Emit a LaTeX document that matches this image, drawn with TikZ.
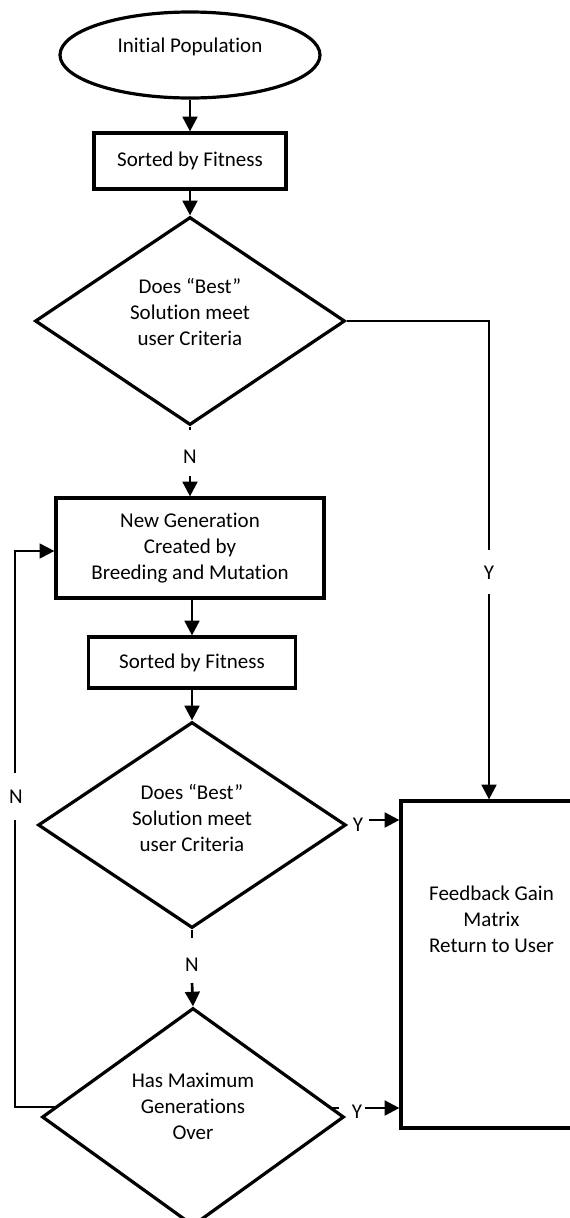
\documentclass[tikz,border=0pt]{standalone}
\usepackage{fontspec}
\setmainfont{Carlito}[Ligatures=NoCommon]
\usetikzlibrary{shapes.geometric,arrows.meta}
\newcommand\upby[2]{\raisebox{#1}[\dimexpr\height+#1\relax][\dimexpr\depth+#1\relax]{\begin{tabular}{@{}c@{}}#2\end{tabular}}}
\begin{document}
\begin{tikzpicture}[x=0.75pt,y=-0.75pt,
  every node/.style={font=\fontsize{15.75pt}{19.5pt}\selectfont, text=black},
  shapebox/.style={draw, line width=2.4pt, inner sep=0pt, align=center},
  proc/.style={shapebox, rectangle},
  decide/.style={shapebox, diamond, aspect=1.5},
  term/.style={shapebox, ellipse},
  conn/.style={line width=2pt},
  arr/.style={conn, -{Triangle[length=11pt,width=11pt]}},
  thinconn/.style={line width=1.5pt},
  lbl/.style={inner sep=0pt}]
\useasboundingbox (0,0) rectangle (570,1218);
\clip (0,0) rectangle (570,1218);

% main column
\node[term, minimum width=195pt, minimum height=64.5pt] (start) at (190,55) {\upby{6pt}{Initial Population}};
\node[proc, minimum width=144pt, minimum height=42pt] (sort1) at (190,161) {Sorted by Fitness};
\node[decide, minimum width=232.5pt, minimum height=156pt] (dec1) at (190,321) {\upby{5.25pt}{Does “Best”\\Solution meet\\user Criteria}};
\node[lbl] (n1) at (190,457) {N};
\coordinate (n1a) at (190,430);
\coordinate (n1b) at (190,476);
\node[proc, minimum width=201pt, minimum height=75pt] (newgen) at (190,548) {New Generation\\Created by\\Breeding and Mutation};
\node[proc, minimum width=155.25pt, minimum height=38.25pt] (sort2) at (192,662.5) {Sorted by Fitness};
\node[decide, minimum width=231pt, minimum height=154.5pt] (dec2) at (192,825) {\upby{3.75pt}{Does “Best”\\Solution meet\\user Criteria}};
\node[lbl] (n2) at (192,965) {N};
\coordinate (n2a) at (192,938);
\coordinate (n2b) at (192,983);
\node[decide, minimum width=226.5pt, minimum height=163.5pt] (dec3) at (193,1117) {\upby{6.75pt}{Has Maximum\\Generations\\Over}};

% result box
\node[proc, minimum width=135.75pt, minimum height=245.25pt] (fb) at (491.5,964.5) {\upby{32.6pt}{Feedback Gain\\Matrix\\Return to User}};

% main flow
\draw[arr] (start) -- (sort1);
\draw[arr] (sort1) -- (dec1);
\draw[conn] (dec1.south) -- (n1a);
\draw[arr] (n1b) -- (newgen.north);
\draw[arr] (sort2.north |- newgen.south) -- (sort2.north);
\draw[arr] (sort2) -- (dec2);
\draw[conn] (dec2.south) -- (n2a);
\draw[arr] (n2b) -- (dec3.north);

% Y from first decision
\node[lbl] (y1) at (489,573) {Y};
\coordinate (y1c) at (489,321);
\coordinate (y1a) at (489,550);
\coordinate (y1b) at (489,594);
\draw[conn] (dec1.east) -- (y1c) -- (y1a);
\draw[arr] (y1b) -- (y1b |- fb.north);

% Y from second decision
\node[lbl] (y2) at (358,825) {Y};
\coordinate (y2a) at (369,820);
\draw[arr] (y2a) -- (y2a -| fb.west);

% Y from third decision
\node[lbl] (y3) at (357,1112) {Y};
\coordinate (y3s) at (331,1108);
\coordinate (y3t) at (339,1108);
\coordinate (y3a) at (365,1108);
\draw[conn] (y3s) -- (y3t);
\draw[arr] (y3a) -- (y3a -| fb.west);

% N loop back
\node[lbl] (n3) at (16,797) {N};
\coordinate (l0) at (55,1107);
\coordinate (l1) at (15,1107);
\coordinate (l2) at (15,820);
\coordinate (l3) at (15,773);
\coordinate (l4) at (15,551);
\draw[thinconn] (l0) -- (l1) -- (l2);
\draw[thinconn, -{Triangle[length=11pt,width=11pt]}] (l3) -- (l4) -- (l4 -| newgen.west);
\end{tikzpicture}
\end{document}
